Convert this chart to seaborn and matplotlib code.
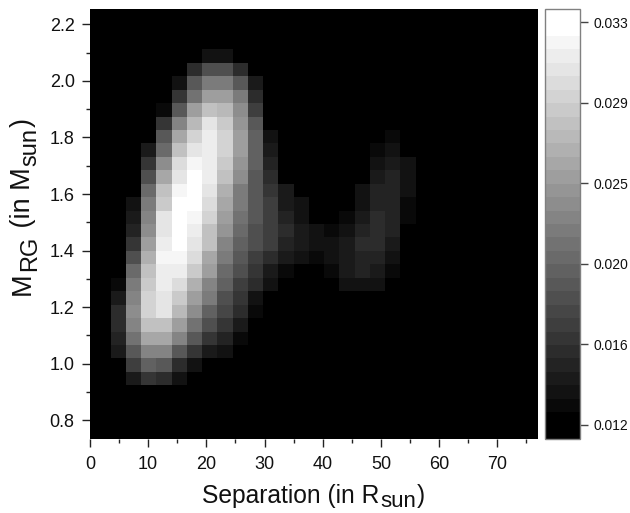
import numpy as np
import matplotlib
matplotlib.use("Agg")
import matplotlib.pyplot as plt
from matplotlib.colors import ListedColormap
from matplotlib.transforms import IdentityTransform
import seaborn as sns

# colour bar band (0 = black ... 31 = white) of each cell
# top row first, columns left to right, everything further right is black
band_rows = [
    [0] * 22,
    [0] * 22,
    [0] * 22,
    [0, 0, 0, 0, 0, 0, 0, 0, 3, 3, 0, 0, 0, 0, 0, 0, 0, 0, 0, 0, 0, 0],
    [0, 0, 0, 0, 0, 0, 0, 6, 10, 10, 6, 0, 0, 0, 0, 0, 0, 0, 0, 0, 0, 0],
    [0, 0, 0, 0, 0, 0, 3, 11, 15, 15, 11, 4, 0, 0, 0, 0, 0, 0, 0, 0, 0, 0],
    [0, 0, 0, 0, 0, 0, 7, 14, 19, 19, 15, 6, 0, 0, 0, 0, 0, 0, 0, 0, 0, 0],
    [0, 0, 0, 0, 0, 2, 11, 19, 23, 22, 17, 8, 0, 0, 0, 0, 0, 0, 0, 0, 0, 0],
    [0, 0, 0, 0, 0, 7, 16, 22, 27, 24, 18, 11, 0, 0, 0, 0, 0, 0, 0, 0, 0, 0],
    [0, 0, 0, 0, 0, 11, 20, 25, 28, 25, 19, 12, 3, 0, 0, 0, 0, 0, 0, 0, 2, 0],
    [0, 0, 0, 0, 4, 13, 23, 27, 28, 25, 19, 12, 4, 0, 0, 0, 0, 0, 0, 2, 3, 0],
    [0, 0, 0, 0, 7, 17, 26, 29, 28, 24, 18, 12, 5, 0, 0, 0, 0, 0, 0, 3, 4, 3],
    [0, 0, 0, 0, 10, 20, 27, 31, 28, 23, 17, 11, 6, 0, 0, 0, 0, 0, 0, 4, 5, 3],
    [0, 0, 0, 0, 13, 23, 29, 31, 27, 21, 15, 11, 7, 4, 0, 0, 0, 0, 3, 5, 5, 3],
    [0, 0, 0, 3, 15, 24, 31, 31, 26, 20, 15, 11, 8, 4, 3, 0, 0, 0, 3, 5, 5, 2],
    [0, 0, 0, 4, 16, 27, 31, 29, 25, 19, 14, 11, 8, 5, 3, 0, 0, 2, 4, 6, 5, 2],
    [0, 0, 0, 5, 17, 27, 31, 28, 23, 18, 13, 10, 8, 6, 4, 3, 2, 3, 5, 6, 5, 0],
    [0, 0, 0, 7, 19, 28, 31, 27, 23, 16, 12, 10, 8, 5, 4, 3, 3, 4, 6, 6, 4, 0],
    [0, 0, 0, 10, 21, 29, 29, 26, 20, 15, 11, 8, 6, 4, 3, 2, 3, 4, 5, 5, 3, 0],
    [0, 0, 0, 13, 23, 28, 28, 24, 19, 13, 10, 7, 4, 2, 0, 0, 2, 4, 5, 4, 2, 0],
    [0, 0, 2, 15, 24, 28, 26, 21, 16, 12, 8, 6, 3, 0, 0, 0, 0, 3, 3, 3, 0, 0],
    [0, 0, 4, 16, 25, 27, 24, 19, 15, 10, 7, 3, 0, 0, 0, 0, 0, 0, 0, 0, 0, 0],
    [0, 0, 6, 17, 25, 27, 22, 17, 12, 9, 6, 2, 0, 0, 0, 0, 0, 0, 0, 0, 0, 0],
    [0, 0, 6, 16, 23, 23, 19, 14, 10, 7, 4, 0, 0, 0, 0, 0, 0, 0, 0, 0, 0, 0],
    [0, 0, 5, 14, 20, 20, 16, 11, 7, 5, 2, 0, 0, 0, 0, 0, 0, 0, 0, 0, 0, 0],
    [0, 0, 4, 11, 16, 16, 11, 7, 4, 3, 0, 0, 0, 0, 0, 0, 0, 0, 0, 0, 0, 0],
    [0, 0, 0, 8, 12, 11, 6, 3, 0, 0, 0, 0, 0, 0, 0, 0, 0, 0, 0, 0, 0, 0],
    [0, 0, 0, 4, 7, 6, 3, 0, 0, 0, 0, 0, 0, 0, 0, 0, 0, 0, 0, 0, 0, 0],
    [0] * 22,
    [0] * 22,
    [0] * 22,
    [0] * 22,
]
n_cols = 31

density_min = 0.01127
density_max = 0.03368
cbar_ticks = [0.012, 0.0162, 0.0204, 0.0246, 0.0288, 0.033]

x_ticks = [0, 10, 20, 30, 40, 50, 60, 70]
x_minor = [5, 15, 25, 35, 45, 55, 65, 75]
y_ticks = [0.8, 1.0, 1.2, 1.4, 1.6, 1.8, 2.0, 2.2]
y_minor = [0.9, 1.1, 1.3, 1.5, 1.7, 1.9, 2.1]

x_label_parts = [('Separation (in R', False), ('sun', True), (')', False)]
y_label_parts = [('M', False), ('RG', True), (' (in M', False), ('sun', True), (')', False)]

# size of one cell in axis units
sep_per_cell = 2.62
mass_per_cell = 0.0475
sep_left_edge = -1.674
mass_bottom = 0.734

sns.set_style("white")
plt.rcParams['font.family'] = ['Liberation Sans', 'DejaVu Sans']

bands = np.zeros((len(band_rows), n_cols))
bands[:, :22] = np.array(band_rows)
band_step = (density_max - density_min) / 32
density = density_min + (bands + 0.5) * band_step

grays = np.clip((np.arange(32) - 1) / 29, 0, 1)
cmap = ListedColormap(np.column_stack([grays, grays, grays]))

fig = plt.figure(figsize=(6.3, 5.13), dpi=100)
W, H = 630, 513
ax = fig.add_axes([90 / W, 1 - 439 / H, 448 / W, 430 / H])
cax = fig.add_axes([545 / W, 1 - 439 / H, 35 / W, 430 / H])

sns.heatmap(density, ax=ax, cbar_ax=cax, cmap=cmap, vmin=density_min, vmax=density_max,
            xticklabels=False, yticklabels=False, linewidths=0, rasterized=True)


def sep_to_cell(v):
    return (np.array(v) - sep_left_edge) / sep_per_cell


def mass_to_cell(v):
    return 32 - (np.array(v) - mass_bottom) / mass_per_cell


def draw_label(parts, x, y, size, sub_size, drop, vertical=False):
    # subscripts are larger here than mathtext makes them, so lay the pieces out by hand
    renderer = fig.canvas.get_renderer()
    for text, is_sub in parts:
        fs = sub_size if is_sub else size
        off = drop if is_sub else 0
        if vertical:
            t = fig.text(x + off, y, text, fontsize=fs, rotation=90, transform=IdentityTransform(),
                         ha='left', va='baseline', rotation_mode='anchor', color='#111111')
            y += t.get_window_extent(renderer).height + 1
        else:
            t = fig.text(x, y - off, text, fontsize=fs, transform=IdentityTransform(),
                         ha='left', va='baseline', color='#111111')
            x += t.get_window_extent(renderer).width + 1


ax.set_xticks(sep_to_cell(x_ticks))
ax.set_xticklabels([str(t) for t in x_ticks])
ax.set_xticks(sep_to_cell(x_minor), minor=True)
ax.set_yticks(mass_to_cell(y_ticks))
ax.set_yticklabels(['%.1f' % t for t in y_ticks], rotation=0)
ax.set_yticks(mass_to_cell(y_minor), minor=True)
ax.set_xlim(sep_to_cell(0), sep_to_cell(77))
ax.set_ylim(32, 0)

ax.tick_params(which='major', length=6, width=1, color='#222222', labelcolor='#111111',
               labelsize=13, left=True, bottom=True, pad=5)
ax.tick_params(axis='x', which='major', pad=6)
ax.tick_params(which='minor', length=3, width=1, color='#222222', left=True, bottom=True)
for s in ax.spines.values():
    s.set_visible(False)

# pixel positions counted from the lower left corner
draw_label(x_label_parts, 202, H - 503, 17.7, 16, 4)
draw_label(y_label_parts, 30, H - 295, 19.5, 17, 6, vertical=True)

cbar = ax.collections[0].colorbar
cbar.set_ticks(cbar_ticks)
cbar.set_ticklabels(['%.3f' % t for t in cbar_ticks])
cbar.ax.tick_params(length=6, width=1, color='#444444', labelcolor='#111111', labelsize=10, right=True, pad=4)
cbar.outline.set_visible(True)
cbar.outline.set_edgecolor('#808080')
cbar.outline.set_linewidth(1)

fig.savefig('out.png', dpi=100)
